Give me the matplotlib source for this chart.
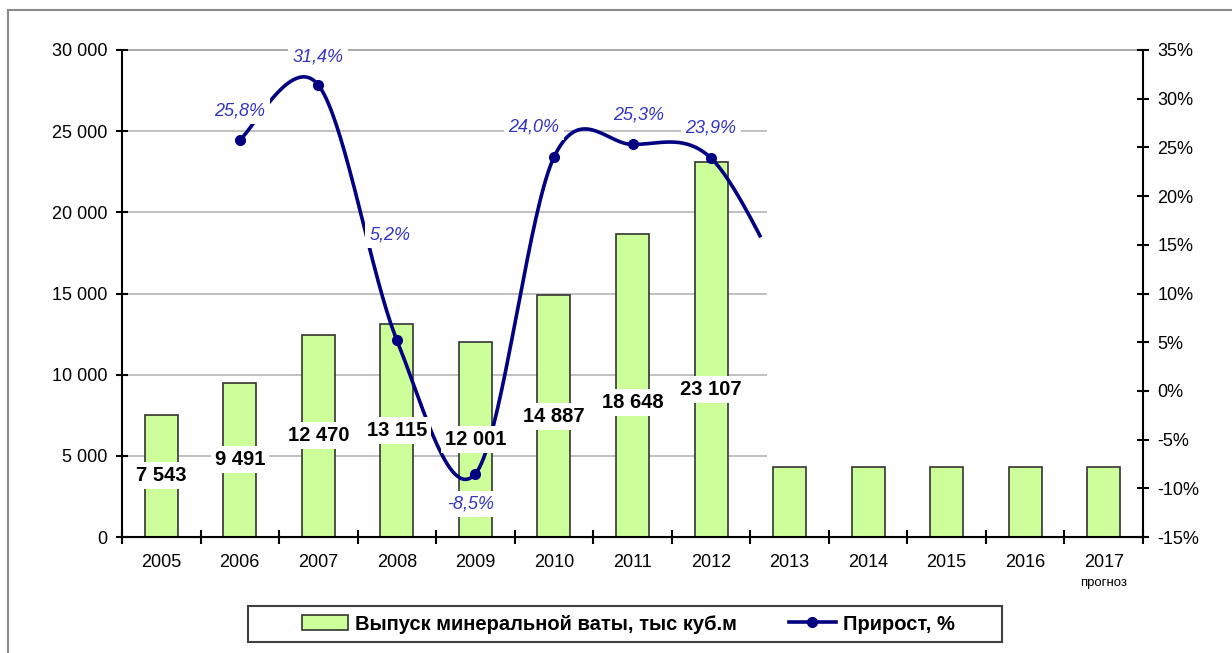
import numpy as np
import matplotlib.pyplot as plt
from matplotlib.patches import Rectangle
from matplotlib.lines import Line2D

plt.rcParams['font.family'] = ['Liberation Sans', 'DejaVu Sans']

# data
years = ['2005', '2006', '2007', '2008', '2009', '2010', '2011', '2012',
         '2013', '2014', '2015', '2016', '2017']
output = [7543, 9491, 12470, 13115, 12001, 14887, 18648, 23107,
          4300, 4300, 4300, 4300, 4300]
growth_years = ['2006', '2007', '2008', '2009', '2010', '2011', '2012', '2013']
growth = [25.8, 31.4, 5.2, -8.5, 24.0, 25.3, 23.9, 10.0]  # 2013 hidden, only the curve tail shows
growth_shown = 7
bar_label_shift = [0, 0, 0, 0, 0, 0, -17, -40]      # pixels
line_label_shift = [(0, 29), (0, 28), (-7, 105), (-5, -30), (-20, 30), (6, 29), (0, 30)]

x = np.arange(len(years))
gx = np.array([years.index(y) for y in growth_years], dtype=float)
gy = np.array(growth)


def catmull(xs, ys, n=40):
    # smoothed line like in Excel
    px = np.concatenate([[xs[0]], xs, [xs[-1]]])
    py = np.concatenate([[ys[0]], ys, [ys[-1]]])
    outx, outy = [], []
    for i in range(1, len(px) - 2):
        t = np.linspace(0, 1, n)
        h00 = 2*t**3 - 3*t**2 + 1
        h10 = t**3 - 2*t**2 + t
        h01 = -2*t**3 + 3*t**2
        h11 = t**3 - t**2
        for p, out in ((px, outx), (py, outy)):
            m1 = (p[i+1] - p[i-1]) / 2
            m2 = (p[i+2] - p[i]) / 2
            out.extend(h00*p[i] + h10*m1 + h01*p[i+1] + h11*m2)
    return np.array(outx), np.array(outy)


fig = plt.figure(figsize=(12.32, 6.53), dpi=100)
ax = fig.add_axes([122/1232, 1-537/653, (1143-122)/1232, (537-50)/653])
ax2 = ax.twinx()

cut = 7.66
ax.set_xlim(-0.5, len(years) - 0.5)
ax.set_ylim(0, 30000)
ax2.set_ylim(-15, 35)

# gridlines (right part of the chart was wiped out in the source)
for v in range(5000, 30000, 5000):
    ax.hlines(v, -0.5, cut + 0.05, color='#c0c0c0', lw=1.4, zorder=0)
ax.hlines(30000, -0.5, len(years) - 0.5, color='#a8a8a8', lw=1.4, zorder=0, clip_on=False)

ax.bar(x, output, width=0.42, color='#ccff99', edgecolor='#333333', linewidth=1.2, zorder=2)

sx, sy = catmull(gx, gy)
keep = sx <= cut
ax2.plot(sx[keep], sy[keep], color='#000080', lw=2.6, zorder=3, solid_capstyle='butt')
ax2.plot(gx[:growth_shown], gy[:growth_shown], 'o', color='#000080', ms=7, zorder=3)

for i in range(growth_shown):
    dx, dy = line_label_shift[i]
    ax2.annotate(f'{growth[i]:.1f}%'.replace('.', ','), (gx[i], gy[i]),
                 xytext=(dx, dy), textcoords='offset pixels', ha='center', va='center',
                 fontsize=13, style='italic', color='#3535c0', zorder=5,
                 bbox=dict(boxstyle='square,pad=0.25', fc='white', ec='none'))

for i in range(8):
    ax2.annotate(f'{output[i]:,}'.replace(',', ' '), (x[i], output[i] / 2),
                 xycoords=ax.transData, xytext=(0, bar_label_shift[i]),
                 textcoords='offset pixels', ha='center', va='center',
                 fontsize=14.5, fontweight='bold', color='black', zorder=6,
                 bbox=dict(boxstyle='square,pad=0.2', fc='white', ec='none'))

# axes styling
ax.spines['top'].set_visible(False)
ax2.spines['top'].set_visible(False)
ax2.spines['left'].set_visible(False)
ax.spines['right'].set_visible(False)
for sp in [ax.spines['left'], ax.spines['bottom'], ax2.spines['right']]:
    sp.set_linewidth(1.5)
    sp.set_color('black')

ax.set_yticks(range(0, 30001, 5000))
ax.set_yticklabels([f'{v:,}'.replace(',', ' ') for v in range(0, 30001, 5000)])
ax2.set_yticks(range(-15, 36, 5))
ax2.set_yticklabels([f'{v}%' for v in range(-15, 36, 5)])
ax.tick_params(axis='y', direction='inout', length=9, width=1.5, labelsize=13, pad=6)
ax2.tick_params(axis='y', direction='inout', length=9, width=1.5, labelsize=13, pad=6)

ax.set_xticks(x)
ax.set_xticklabels(years)
ax.set_xticks(np.arange(-0.5, len(years)), minor=True)
ax.tick_params(axis='x', which='major', length=0, labelsize=13, pad=12)
ax.tick_params(axis='x', which='minor', direction='inout', length=10, width=1.5)
ax.text(x[-1], -0.095, 'прогноз', transform=ax.get_xaxis_transform(),
        ha='center', va='center', fontsize=9.5)

handles = [Rectangle((0, 0), 1, 1, fc='#ccff99', ec='#333333', lw=1.2),
           Line2D([], [], color='#000080', lw=2.6, marker='o', ms=7)]
leg = fig.legend(handles, ['Выпуск минеральной ваты, тыс куб.м', 'Прирост, %'],
                 loc='center', bbox_to_anchor=(628/1232, 1-624/653), ncol=2,
                 frameon=False, prop={'size': 14.5, 'weight': 'bold'},
                 columnspacing=2.6, handlelength=2.3, handletextpad=0.35,
                 handleheight=0.8)

# legend frame and outer chart border
fig.add_artist(Rectangle((248/1232, 1-642/653), (1002-248)/1232, 36/653,
                         transform=fig.transFigure, fill=False, ec='#404040', lw=1.5))
fig.add_artist(Rectangle((8/1232, -0.1), 1.2, 1.1 - 10/653, transform=fig.transFigure,
                         fill=False, ec='#8a8a8a', lw=1.5))

fig.savefig('out.png', dpi=100)
